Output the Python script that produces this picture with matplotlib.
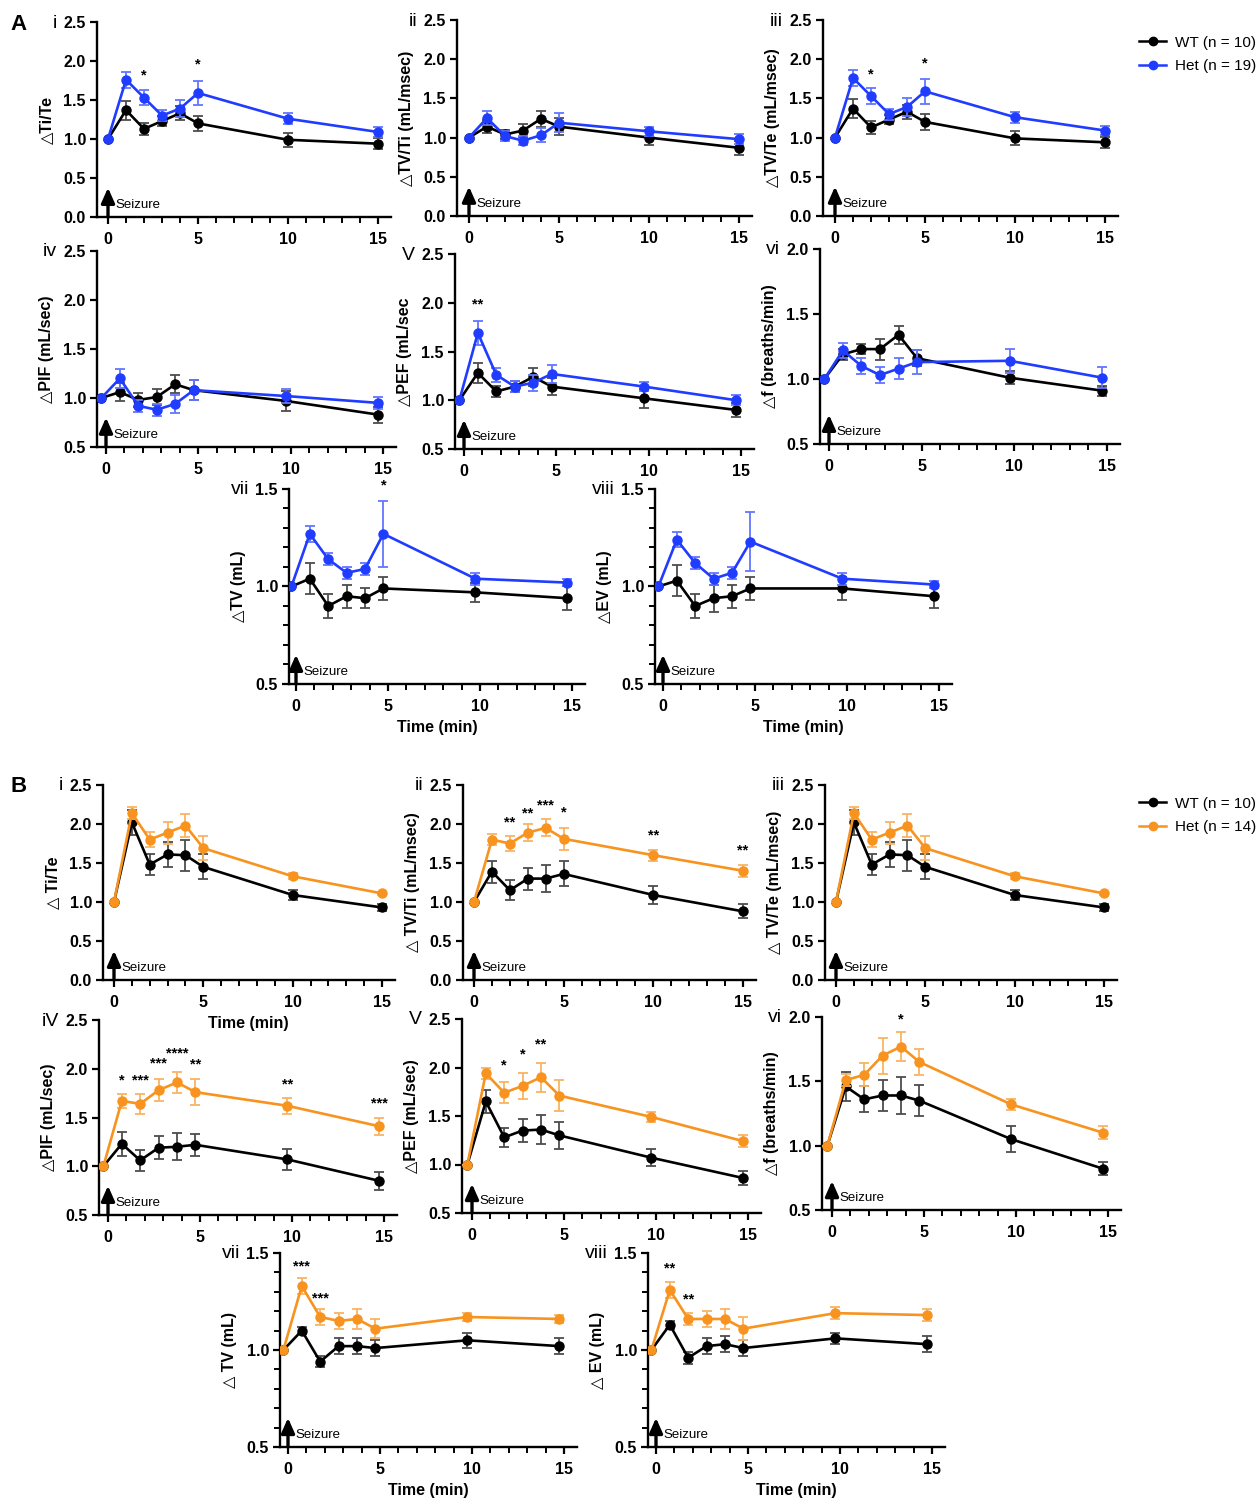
import matplotlib
matplotlib.use("Agg")
import matplotlib.pyplot as plt
from matplotlib.ticker import MultipleLocator
from matplotlib.lines import Line2D
import matplotlib.transforms as mtransforms

plt.rcParams["font.family"] = ["Liberation Sans", "DejaVu Sans"]

W, H = 1258, 1500

# time points: panels drawn at whole minutes, or shifted a quarter-minute left
TIME = [0, 1, 2, 3, 4, 5, 10, 15]
TIME_SHIFT = [-0.25, 0.75, 1.75, 2.75, 3.75, 4.75, 9.75, 14.75]

WT_BLACK = "#000000"
HET_BLUE = "#1f3cff"
HET_ORANGE = "#f7931e"

# ---- panel A (Het n = 19) ----
A_TITE_WT = [1.0, 1.37, 1.13, 1.23, 1.33, 1.20, 0.99, 0.94]
A_TITE_WT_SEM = [0, 0.12, 0.08, 0.06, 0.09, 0.10, 0.09, 0.07]
A_TITE_HET = [1.0, 1.76, 1.53, 1.30, 1.39, 1.59, 1.26, 1.09]
A_TITE_HET_SEM = [0, 0.10, 0.10, 0.07, 0.11, 0.16, 0.07, 0.06]

A_TVTI_WT = [1.0, 1.14, 1.04, 1.09, 1.24, 1.14, 1.00, 0.87]
A_TVTI_WT_SEM = [0, 0.08, 0.06, 0.08, 0.10, 0.11, 0.10, 0.09]
A_TVTI_HET = [1.0, 1.25, 1.02, 0.96, 1.03, 1.19, 1.08, 0.98]
A_TVTI_HET_SEM = [0, 0.09, 0.06, 0.06, 0.09, 0.12, 0.06, 0.06]

A_TVTE_WT = [1.0, 1.37, 1.13, 1.23, 1.33, 1.20, 0.99, 0.94]
A_TVTE_WT_SEM = [0, 0.12, 0.08, 0.06, 0.09, 0.10, 0.09, 0.07]
A_TVTE_HET = [1.0, 1.76, 1.53, 1.30, 1.39, 1.59, 1.26, 1.09]
A_TVTE_HET_SEM = [0, 0.10, 0.10, 0.07, 0.11, 0.16, 0.07, 0.06]

A_PIF_WT = [1.0, 1.06, 0.98, 1.01, 1.14, 1.08, 0.97, 0.83]
A_PIF_WT_SEM = [0, 0.09, 0.07, 0.08, 0.09, 0.10, 0.10, 0.08]
A_PIF_HET = [1.0, 1.20, 0.92, 0.88, 0.94, 1.08, 1.02, 0.95]
A_PIF_HET_SEM = [0, 0.10, 0.06, 0.06, 0.09, 0.10, 0.07, 0.06]

A_PEF_WT = [1.0, 1.28, 1.09, 1.14, 1.24, 1.14, 1.02, 0.90]
A_PEF_WT_SEM = [0, 0.10, 0.06, 0.06, 0.09, 0.09, 0.10, 0.07]
A_PEF_HET = [1.0, 1.69, 1.26, 1.14, 1.18, 1.27, 1.14, 1.00]
A_PEF_HET_SEM = [0, 0.12, 0.07, 0.06, 0.08, 0.09, 0.05, 0.05]

A_F_WT = [1.0, 1.19, 1.23, 1.23, 1.34, 1.16, 1.01, 0.91]
A_F_WT_SEM = [0, 0.04, 0.04, 0.08, 0.07, 0.06, 0.05, 0.04]
A_F_HET = [1.0, 1.22, 1.10, 1.03, 1.08, 1.13, 1.14, 1.01]
A_F_HET_SEM = [0, 0.06, 0.06, 0.06, 0.08, 0.09, 0.09, 0.08]

A_TV_WT = [1.0, 1.04, 0.90, 0.95, 0.94, 0.99, 0.97, 0.94]
A_TV_WT_SEM = [0, 0.08, 0.06, 0.06, 0.05, 0.06, 0.05, 0.06]
A_TV_HET = [1.0, 1.27, 1.14, 1.07, 1.09, 1.27, 1.04, 1.02]
A_TV_HET_SEM = [0, 0.04, 0.03, 0.03, 0.03, 0.17, 0.03, 0.02]

A_EV_WT = [1.0, 1.03, 0.90, 0.94, 0.95, 0.99, 0.99, 0.95]
A_EV_WT_SEM = [0, 0.08, 0.06, 0.07, 0.06, 0.06, 0.06, 0.06]
A_EV_HET = [1.0, 1.24, 1.12, 1.04, 1.07, 1.23, 1.04, 1.01]
A_EV_HET_SEM = [0, 0.04, 0.03, 0.03, 0.03, 0.15, 0.03, 0.02]

# ---- panel B (Het n = 14) ----
B_TITE_WT = [1.0, 2.02, 1.48, 1.61, 1.60, 1.45, 1.09, 0.93]
B_TITE_WT_SEM = [0, 0.16, 0.14, 0.16, 0.20, 0.16, 0.07, 0.05]
B_TITE_HET = [1.0, 2.14, 1.80, 1.89, 1.98, 1.69, 1.33, 1.11]
B_TITE_HET_SEM = [0, 0.08, 0.10, 0.14, 0.15, 0.15, 0.04, 0.02]

B_TVTI_WT = [1.0, 1.39, 1.15, 1.30, 1.30, 1.36, 1.09, 0.88]
B_TVTI_WT_SEM = [0, 0.14, 0.13, 0.14, 0.17, 0.16, 0.12, 0.09]
B_TVTI_HET = [1.0, 1.80, 1.75, 1.89, 1.95, 1.81, 1.60, 1.40]
B_TVTI_HET_SEM = [0, 0.07, 0.10, 0.11, 0.11, 0.14, 0.07, 0.08]

B_TVTE_WT = [1.0, 2.02, 1.48, 1.61, 1.60, 1.45, 1.09, 0.93]
B_TVTE_WT_SEM = [0, 0.16, 0.14, 0.16, 0.20, 0.16, 0.07, 0.05]
B_TVTE_HET = [1.0, 2.14, 1.80, 1.89, 1.98, 1.69, 1.33, 1.11]
B_TVTE_HET_SEM = [0, 0.08, 0.10, 0.14, 0.15, 0.15, 0.04, 0.02]

B_PIF_WT = [1.0, 1.23, 1.06, 1.19, 1.20, 1.22, 1.07, 0.85]
B_PIF_WT_SEM = [0, 0.12, 0.11, 0.12, 0.14, 0.11, 0.11, 0.09]
B_PIF_HET = [1.0, 1.67, 1.64, 1.78, 1.86, 1.76, 1.62, 1.41]
B_PIF_HET_SEM = [0, 0.07, 0.10, 0.11, 0.11, 0.13, 0.08, 0.09]

B_PEF_WT = [1.0, 1.65, 1.28, 1.35, 1.36, 1.30, 1.07, 0.86]
B_PEF_WT_SEM = [0, 0.12, 0.10, 0.12, 0.15, 0.14, 0.09, 0.07]
B_PEF_HET = [1.0, 1.94, 1.74, 1.81, 1.90, 1.71, 1.49, 1.24]
B_PEF_HET_SEM = [0, 0.06, 0.11, 0.13, 0.15, 0.16, 0.05, 0.06]

B_F_WT = [1.0, 1.46, 1.36, 1.39, 1.39, 1.35, 1.05, 0.82]
B_F_WT_SEM = [0, 0.11, 0.10, 0.12, 0.14, 0.12, 0.10, 0.05]
B_F_HET = [1.0, 1.51, 1.55, 1.70, 1.77, 1.65, 1.32, 1.10]
B_F_HET_SEM = [0, 0.05, 0.09, 0.14, 0.11, 0.10, 0.04, 0.05]

B_TV_WT = [1.0, 1.10, 0.94, 1.02, 1.02, 1.01, 1.05, 1.02]
B_TV_WT_SEM = [0, 0.02, 0.03, 0.04, 0.04, 0.04, 0.04, 0.04]
B_TV_HET = [1.0, 1.33, 1.17, 1.15, 1.16, 1.11, 1.17, 1.16]
B_TV_HET_SEM = [0, 0.04, 0.04, 0.04, 0.05, 0.05, 0.02, 0.02]

B_EV_WT = [1.0, 1.13, 0.96, 1.02, 1.03, 1.01, 1.06, 1.03]
B_EV_WT_SEM = [0, 0.02, 0.03, 0.04, 0.04, 0.04, 0.03, 0.04]
B_EV_HET = [1.0, 1.31, 1.16, 1.16, 1.16, 1.11, 1.19, 1.18]
B_EV_HET_SEM = [0, 0.04, 0.03, 0.04, 0.05, 0.06, 0.03, 0.03]

# significance marks (time, height, text)
A_TITE_STARS = [(2, 1.81, "*"), (5, 1.95, "*")]
A_TVTE_STARS = [(2, 1.81, "*"), (5, 1.95, "*")]
A_PEF_STARS = [(0.75, 1.98, "**")]
A_TV_STARS = [(4.75, 1.52, "*")]
B_TVTI_STARS = [(2, 2.02, "**"), (3, 2.13, "**"), (4, 2.24, "***"), (5, 2.15, "*"),
                (10, 1.85, "**"), (15, 1.66, "**")]
B_PIF_STARS = [(0.75, 1.88, "*"), (1.75, 1.88, "***"), (2.75, 2.05, "***"),
               (3.75, 2.16, "****"), (4.75, 2.04, "**"), (9.75, 1.84, "**"),
               (14.75, 1.64, "***")]
B_PEF_STARS = [(1.75, 2.02, "*"), (2.75, 2.13, "*"), (3.75, 2.24, "**")]
B_F_STARS = [(3.75, 1.98, "*")]
B_TV_STARS = [(0.75, 1.43, "***"), (1.75, 1.265, "***")]
B_EV_STARS = [(0.75, 1.42, "**"), (1.75, 1.26, "**")]


def lighten(c, amt):
    rgb = matplotlib.colors.to_rgb(c)
    return tuple(v + (1 - v) * amt for v in rgb)


def panel(fig, geom, ylim, ystep, roman, ylabel, times, wt, wt_e, het, het_e,
          het_color, stars=(), yminor=None, xlabel=False):
    spine, x0, x15, top, bot = geom
    ppu = (x15 - x0) / 15.0
    xl = (spine - x0) / ppu
    xr = 15.7
    right = x0 + xr * ppu
    ax = fig.add_axes([spine / W, 1 - bot / H, (right - spine) / W, (bot - top) / H])
    ax.patch.set_visible(False)
    ax.set_xlim(xl, xr)
    ax.set_ylim(*ylim)
    for s in ("top", "right"):
        ax.spines[s].set_visible(False)
    for s in ("left", "bottom"):
        ax.spines[s].set_linewidth(1.7)
    ax.xaxis.set_major_locator(MultipleLocator(5))
    ax.xaxis.set_minor_locator(MultipleLocator(1))
    ax.yaxis.set_major_locator(MultipleLocator(ystep))
    if yminor:
        ax.yaxis.set_minor_locator(MultipleLocator(yminor))
    ax.tick_params(which="major", direction="out", length=5, width=1.6, labelsize=11.5, pad=3)
    ax.tick_params(axis="x", which="major", pad=6)
    ax.tick_params(which="minor", direction="out", length=4, width=1.4)
    ax.xaxis.set_major_formatter(matplotlib.ticker.FormatStrFormatter("%d"))
    ax.yaxis.set_major_formatter(matplotlib.ticker.FormatStrFormatter("%.1f"))
    for lab in ax.get_xticklabels() + ax.get_yticklabels():
        lab.set_fontweight("bold")

    ax.errorbar(times, wt, yerr=wt_e, fmt="none", ecolor=lighten(WT_BLACK, 0.3),
                elinewidth=1.3, capsize=3.5, capthick=1.3, zorder=2)
    ax.plot(times, wt, "-o", color=WT_BLACK, lw=1.9, ms=6.5, zorder=3)
    ax.errorbar(times, het, yerr=het_e, fmt="none", ecolor=lighten(het_color, 0.3),
                elinewidth=1.3, capsize=3.5, capthick=1.3, zorder=4)
    ax.plot(times, het, "-o", color=het_color, lw=1.9, ms=6.5, zorder=5)

    for sx, sy, st in stars:
        ax.text(sx, sy, st, ha="center", va="center", fontsize=10.5, fontweight="bold")

    tr = mtransforms.blended_transform_factory(ax.transData, ax.transAxes)
    ax.annotate("", xy=(0, 0.15), xytext=(0, 0), xycoords=tr, textcoords=tr,
                arrowprops=dict(arrowstyle="-|>,head_width=0.4,head_length=0.9",
                                lw=2.4, color="k", shrinkA=0, shrinkB=0), zorder=6)
    ax.text(0.4, 0.06, "Seizure", transform=tr, fontsize=9.5, va="center", ha="left")

    ax.set_ylabel(ylabel, fontsize=11.5, fontweight="bold", labelpad=7)
    if xlabel:
        ax.set_xlabel("Time (min)", fontsize=11.5, fontweight="bold", labelpad=4)
    fig.text((spine - 40) / W, 1 - (top + 1) / H, roman, fontsize=14,
             ha="right", va="center")
    return ax


fig = plt.figure(figsize=(W / 100, H / 100), dpi=100)

# panel A
panel(fig, (97, 108, 378, 22, 217), (0, 2.5), 0.5, "i", "△Ti/Te", TIME,
      A_TITE_WT, A_TITE_WT_SEM, A_TITE_HET, A_TITE_HET_SEM, HET_BLUE, A_TITE_STARS)
panel(fig, (457, 469, 739, 20, 216), (0, 2.5), 0.5, "ii", "△TV/Ti (mL/msec)", TIME,
      A_TVTI_WT, A_TVTI_WT_SEM, A_TVTI_HET, A_TVTI_HET_SEM, HET_BLUE)
panel(fig, (823, 835, 1105, 20, 216), (0, 2.5), 0.5, "iii", "△TV/Te (mL/msec)", TIME,
      A_TVTE_WT, A_TVTE_WT_SEM, A_TVTE_HET, A_TVTE_HET_SEM, HET_BLUE, A_TVTE_STARS)
panel(fig, (97, 106, 383, 251, 447), (0.5, 2.5), 0.5, "iv", "△PIF (mL/sec)", TIME_SHIFT,
      A_PIF_WT, A_PIF_WT_SEM, A_PIF_HET, A_PIF_HET_SEM, HET_BLUE)
panel(fig, (455, 464, 741, 254, 449), (0.5, 2.5), 0.5, "V", "△PEF (mL/sec", TIME_SHIFT,
      A_PEF_WT, A_PEF_WT_SEM, A_PEF_HET, A_PEF_HET_SEM, HET_BLUE, A_PEF_STARS)
panel(fig, (820, 829, 1107, 249, 444), (0.5, 2.0), 0.5, "vi", "△f (breaths/min)", TIME_SHIFT,
      A_F_WT, A_F_WT_SEM, A_F_HET, A_F_HET_SEM, HET_BLUE)
panel(fig, (289, 296, 572, 489, 684), (0.5, 1.5), 0.5, "vii", "△TV (mL)", TIME_SHIFT,
      A_TV_WT, A_TV_WT_SEM, A_TV_HET, A_TV_HET_SEM, HET_BLUE, A_TV_STARS,
      yminor=0.1, xlabel=True)
panel(fig, (655, 663, 939, 489, 684), (0.5, 1.5), 0.5, "viii", "△EV (mL)", TIME_SHIFT,
      A_EV_WT, A_EV_WT_SEM, A_EV_HET, A_EV_HET_SEM, HET_BLUE,
      yminor=0.1, xlabel=True)

# panel B
panel(fig, (103, 114, 382, 785, 980), (0, 2.5), 0.5, "i", "△ Ti/Te", TIME,
      B_TITE_WT, B_TITE_WT_SEM, B_TITE_HET, B_TITE_HET_SEM, HET_ORANGE, xlabel=True)
panel(fig, (463, 474, 743, 785, 980), (0, 2.5), 0.5, "ii", "△ TV/Ti (mL/msec)", TIME,
      B_TVTI_WT, B_TVTI_WT_SEM, B_TVTI_HET, B_TVTI_HET_SEM, HET_ORANGE, B_TVTI_STARS)
panel(fig, (825, 836, 1104, 785, 980), (0, 2.5), 0.5, "iii", "△ TV/Te (mL/msec)", TIME,
      B_TVTE_WT, B_TVTE_WT_SEM, B_TVTE_HET, B_TVTE_HET_SEM, HET_ORANGE)
panel(fig, (99, 108, 384, 1020, 1215), (0.5, 2.5), 0.5, "iV", "△PIF (mL/sec)", TIME_SHIFT,
      B_PIF_WT, B_PIF_WT_SEM, B_PIF_HET, B_PIF_HET_SEM, HET_ORANGE, B_PIF_STARS)
panel(fig, (462, 472, 748, 1019, 1213), (0.5, 2.5), 0.5, "V", "△PEF (mL/sec)", TIME_SHIFT,
      B_PEF_WT, B_PEF_WT_SEM, B_PEF_HET, B_PEF_HET_SEM, HET_ORANGE, B_PEF_STARS)
panel(fig, (822, 832, 1108, 1017, 1210), (0.5, 2.0), 0.5, "vi", "△f (breaths/min)", TIME_SHIFT,
      B_F_WT, B_F_WT_SEM, B_F_HET, B_F_HET_SEM, HET_ORANGE, B_F_STARS)
panel(fig, (280, 288, 564, 1253, 1447), (0.5, 1.5), 0.5, "vii", "△ TV (mL)", TIME_SHIFT,
      B_TV_WT, B_TV_WT_SEM, B_TV_HET, B_TV_HET_SEM, HET_ORANGE, B_TV_STARS,
      yminor=0.1, xlabel=True)
panel(fig, (648, 656, 932, 1253, 1447), (0.5, 1.5), 0.5, "viii", "△ EV (mL)", TIME_SHIFT,
      B_EV_WT, B_EV_WT_SEM, B_EV_HET, B_EV_HET_SEM, HET_ORANGE, B_EV_STARS,
      yminor=0.1, xlabel=True)

fig.text(10 / W, 1 - 24 / H, "A", fontsize=16, fontweight="bold", va="center")
fig.text(10 / W, 1 - 787 / H, "B", fontsize=16, fontweight="bold", va="center")


def legend(y_top, het_label, het_color):
    handles = [Line2D([], [], color=WT_BLACK, marker="o", lw=1.8, ms=6),
               Line2D([], [], color=het_color, marker="o", lw=1.8, ms=6)]
    fig.legend(handles, ["WT (n = 10)", het_label], loc="upper left",
               bbox_to_anchor=(1125 / W, 1 - y_top / H), frameon=False,
               fontsize=11, handlelength=1.8, handletextpad=0.6, labelspacing=0.6)


legend(22, "Het (n = 19)", HET_BLUE)
legend(783, "Het (n = 14)", HET_ORANGE)

fig.savefig("out.png", dpi=100)
